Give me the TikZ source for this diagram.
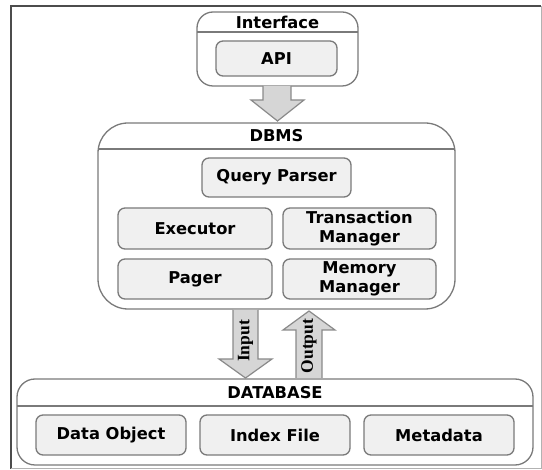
\documentclass[tikz,border=0pt]{standalone}
\usepackage{fontspec}
\setmainfont{DejaVu Sans}
\newfontfamily\serifb{Liberation Serif}
\definecolor{cborder}{HTML}{7A7A7A}
\definecolor{cfill}{HTML}{F0F0F0}
\definecolor{afill}{HTML}{D6D6D6}
\definecolor{aborder}{HTML}{8A8A8A}
\begin{document}
\begin{tikzpicture}[x=1pt,y=-1pt,
  container/.style={draw=cborder, line width=1.3pt, fill=white, rounded corners=#1},
  container/.default=16pt,
  inbox/.style={draw=cborder, line width=1.3pt, fill=cfill, rounded corners=7pt,
    inner sep=0pt, align=center, font=\bfseries\fontsize{16.3}{19.5}\selectfont},
  header/.style={font=\bfseries\fontsize{16.3}{19}\selectfont, inner sep=0pt},
  blockarrow/.style={draw=aborder, line width=1.2pt, fill=afill, line join=miter},
  arrowlabel/.style={font=\serifb\bfseries\fontsize{17.5}{19}\selectfont, rotate=90, inner sep=0pt}
]
\useasboundingbox (0,0) rectangle (542,470);
% outer frame
\draw[line width=1.6pt, black!70] (11,469) -- (11,6) -- (541,6);
\draw[line width=1pt, black!30] (541,6) -- (541,469) -- (11,469);

% Interface container
\draw[container=16pt] (197,12) rectangle (358,86);
\draw[cborder, line width=1.3pt] (197,32) -- (358,32);
\node[header] (iftitle) at (277.5,22) {Interface};
\node[inbox, minimum width=121pt, minimum height=35pt] (api) at (276.5,58.5) {API};

% DBMS container
\draw[container=30pt] (98,123) rectangle (455,309);
\draw[cborder, line width=1.3pt] (98,149) -- (455,149);
\node[header] (dbmstitle) at (276.5,136) {DBMS};
\node[inbox, minimum width=149pt, minimum height=39pt] (qp) at (276.5,177.5) {Query Parser};
\node[inbox, minimum width=154pt, minimum height=41pt] (exec) at (195,228.5) {Executor};
\node[inbox, minimum width=153pt, minimum height=41pt] (tm) at (359.5,228.5) {Transaction\\Manager};
\node[inbox, minimum width=154pt, minimum height=40pt] (pager) at (195,279) {Pager};
\node[inbox, minimum width=153pt, minimum height=40pt] (mm) at (359.5,279) {Memory\\Manager};

% DATABASE container
\draw[container=18pt] (17,379) rectangle (533,465);
\draw[cborder, line width=1.3pt] (17,406) -- (533,406);
\node[header] (dbtitle) at (275,392.5) {DATABASE};
\node[inbox, minimum width=150pt, minimum height=40pt] (dobj) at (111,435) {Data Object};
\node[inbox, minimum width=150pt, minimum height=40pt] (idx) at (275,435) {Index File};
\node[inbox, minimum width=150pt, minimum height=40pt] (meta) at (439,435) {Metadata};

% arrow Interface -> DBMS
\draw[blockarrow] (263,86) -- (263,100) -- (251,100) -- (277.5,121) -- (304,100) -- (291,100) -- (291,86);
% Input arrow (down)
\draw[blockarrow] (233,310) -- (233,359) -- (219,359) -- (245.5,378) -- (272,359) -- (258,359) -- (258,310);
\node[arrowlabel] (inlbl) at (245.5,341) {Input};
% Output arrow (up)
\draw[blockarrow] (296,378) -- (296,330) -- (283,330) -- (309,311) -- (335,330) -- (322,330) -- (322,378);
\node[arrowlabel] (outlbl) at (309,346) {Output};
\end{tikzpicture}
\end{document}
